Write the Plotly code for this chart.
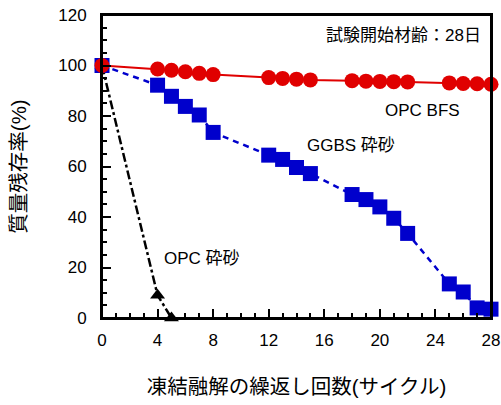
import plotly.graph_objects as go

cycles = [0, 4, 5, 6, 7, 8, 12, 13, 14, 15, 18, 19, 20, 21, 22, 25, 26, 27, 28]
mass_opc_bfs = [100, 98.6, 98.1, 97.5, 96.9, 96.4, 95.2, 94.9, 94.6, 94.3,
                94.0, 93.8, 93.7, 93.6, 93.5, 93.1, 92.9, 92.8, 92.6]
mass_ggbs = [100, 92.2, 87.8, 83.8, 80.4, 73.5, 64.5, 62.8, 59.6, 57.2,
             48.9, 46.9, 44.0, 39.5, 33.5, 13.5, 10.3, 4.0, 3.5]
cycles_opc = [0, 4, 5]
mass_opc = [100, 9, 0]

FONT = "Liberation Sans, Arial, Noto Sans CJK JP"

fig = go.Figure()
fig.add_trace(go.Scatter(
    x=cycles_opc, y=mass_opc, mode="lines+markers", name="OPC 砕砂",
    line=dict(color="black", width=2.5, dash="dashdot"),
    marker=dict(symbol="triangle-up", size=13, color="black"),
    cliponaxis=False))
fig.add_trace(go.Scatter(
    x=cycles, y=mass_ggbs, mode="lines+markers", name="GGBS 砕砂",
    line=dict(color="#0000cc", width=2.5, dash="6px,5px"),
    marker=dict(symbol="square", size=15, color="#0000cc"),
    cliponaxis=False))
fig.add_trace(go.Scatter(
    x=cycles, y=mass_opc_bfs, mode="lines+markers", name="OPC BFS",
    line=dict(color="#e00000", width=2),
    marker=dict(symbol="circle", size=15, color="#e00000"),
    cliponaxis=False))

axis_common = dict(
    showgrid=False, zeroline=False, showline=True, linecolor="black",
    linewidth=2, mirror=True, ticks="inside", tickcolor="black",
    tickwidth=2, ticklen=9, automargin=False, ticklabeloverflow="allow",
    tickfont=dict(family=FONT, size=17, color="black"),
)

fig.update_xaxes(range=[0, 28], dtick=4, tick0=0,
                 minor=dict(dtick=1, ticks="inside", ticklen=5, tickcolor="black", tickwidth=2),
                 ticklabelstandoff=6,
                 title=dict(text="凍結融解の繰返し回数(サイクル)",
                            font=dict(family=FONT, size=20.5, color="black"), standoff=30),
                 **axis_common)
fig.update_yaxes(range=[0, 120], dtick=20, tick0=0,
                 minor=dict(dtick=5, ticks="inside", ticklen=5, tickcolor="black", tickwidth=2),
                 ticklabelstandoff=10,
                 title=dict(text="質量残存率(%)",
                            font=dict(family=FONT, size=20.5, color="black"), standoff=26),
                 **axis_common)

# plot frame
fig.add_shape(type="rect", xref="paper", yref="paper", x0=0, y0=0, x1=1, y1=1,
              line=dict(color="black", width=2), layer="above")

annos = [
    ("OPC BFS", 422, 110, 17),
    ("GGBS 砕砂", 351, 145, 17),
    ("OPC 砕砂", 202, 258, 17),
    ("試験開始材齢：28日", 403, 35, 17),
]
for text, px, py, fs in annos:
    fig.add_annotation(
        text=text, x=(px - 102) / 389, y=(318 - py) / 303, xref="paper", yref="paper",
        showarrow=False, xanchor="center", yanchor="middle",
        font=dict(family=FONT, size=fs, color="black"))

fig.update_layout(
    width=501, height=405, showlegend=False,
    margin=dict(l=102, r=10, t=15, b=87),
    plot_bgcolor="white", paper_bgcolor="white",
    font=dict(family=FONT, color="black"),
)

fig.write_html("out.html",
               config={"displayModeBar": False, "staticPlot": True},
               post_script="document.body.style.margin='0';document.body.style.overflow='hidden';")
